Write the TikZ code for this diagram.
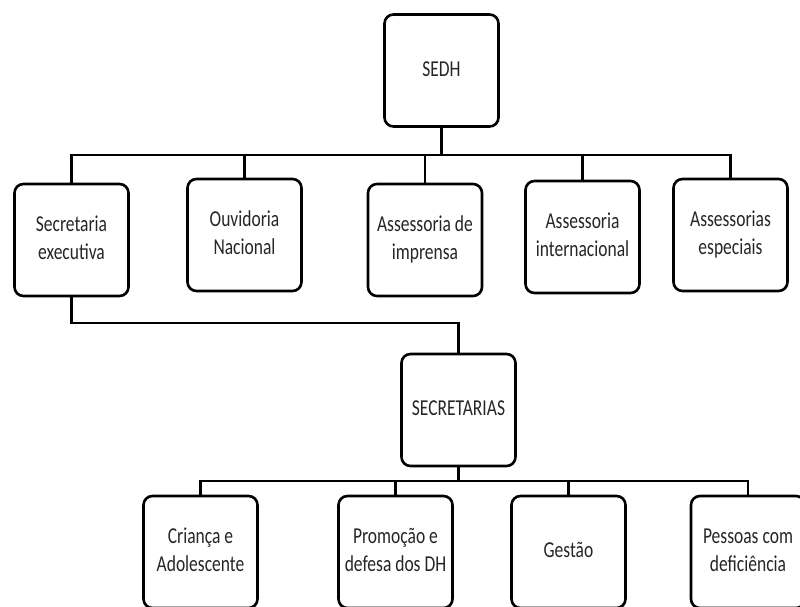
\documentclass[tikz,border=0pt]{standalone}
\usepackage{fontspec}
\setmainfont{Carlito}
\newcommand{\bxt}[1]{\scalebox{1}[1.3]{\begin{tabular}{@{}c@{}}#1\end{tabular}}}
\tikzset{
  orgbox/.style={draw=black, line width=2.6pt, rounded corners=9pt, fill=white,
    minimum width=114pt, minimum height=112pt, inner sep=0pt, align=center,
    font=\fontsize{17.5}{21.5}\selectfont, text=black!85},
  link/.style={draw=black, line width=2.6pt}
}
\begin{document}
\begin{tikzpicture}[x=1pt,y=-1pt]
\useasboundingbox (0,0) rectangle (800,607);
\fill[white] (0,0) rectangle (800,607);
% nodes
\node[orgbox] (sedh) at (441.5,70.5) {\bxt{SEDH}};
\node[orgbox] (sec) at (71.5,240) {\bxt{Secretaria\\executiva}};
\node[orgbox] (ouv) at (244.5,235) {\bxt{Ouvidoria\\Nacional}};
\node[orgbox] (imp) at (425,240) {\bxt{Assessoria de\\imprensa}};
\node[orgbox] (int) at (582.5,237) {\bxt{Assessoria\\internacional}};
\node[orgbox] (esp) at (730.5,235) {\bxt{Assessorias\\especiais}};
\node[orgbox] (secr) at (458.5,410) {\bxt{SECRETARIAS}};
\node[orgbox] (cri) at (200.5,552) {\bxt{Criança e\\Adolescente}};
\node[orgbox] (pro) at (395.5,552) {\bxt{Promoção e\\defesa dos DH}};
\node[orgbox] (ges) at (568.5,552) {\bxt{Gestão}};
\node[orgbox] (pes) at (748,552) {\bxt{Pessoas com\\deficiência}};
% bus coordinates
\coordinate (busA) at (441.5,155);
\coordinate (busB) at (458.5,323);
\coordinate (busC) at (458.5,481);
% connectors
\draw[link] (sedh.south) -- (busA);
\draw[link] (sec.north) |- (busA) -| (esp.north);
\draw[link] (ouv.north) -- (ouv.north |- busA);
\draw[link] (imp.north) -- (imp.north |- busA);
\draw[link] (int.north) -- (int.north |- busA);
\draw[link] (sec.south) |- (busB) -- (secr.north);
\draw[link] (secr.south) -- (busC);
\draw[link] (cri.north) |- (busC) -| (pes.north);
\draw[link] (pro.north) -- (pro.north |- busC);
\draw[link] (ges.north) -- (ges.north |- busC);
\end{tikzpicture}
\end{document}
